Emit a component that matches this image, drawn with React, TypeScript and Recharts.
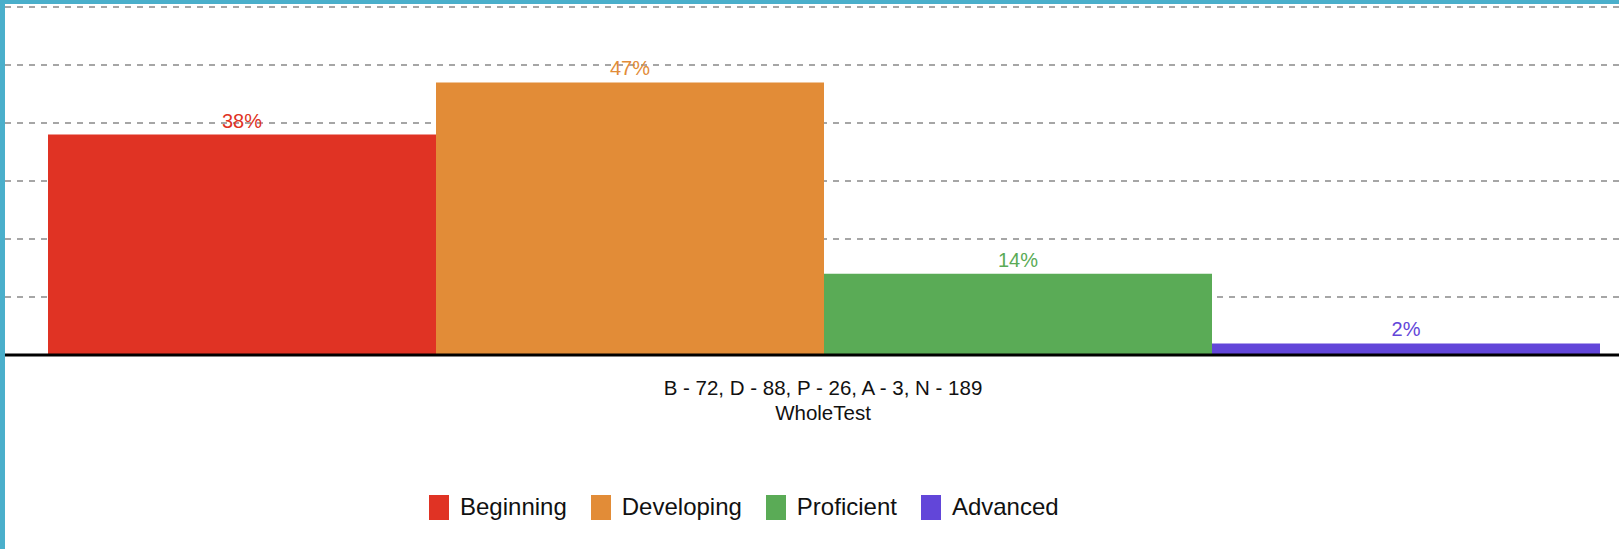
import React from "react";
import { Bar, BarChart, CartesianGrid, LabelList, XAxis, YAxis } from "recharts";

const CATEGORIES = ["WholeTest"];
const LEVELS = ["Beginning", "Developing", "Proficient", "Advanced"];
const SHORT = ["B", "D", "P", "A"];
const COUNTS = [72, 88, 26, 3];
const TOTAL = 189;
const PERCENTS = [38, 47, 14, 2];
const Y_TICKS = [0, 10, 20, 30, 40, 50, 60];

const COLORS = ["#e03324", "#e28c37", "#5aab56", "#6246d9"];
const BORDER = "#4aafcb";
const FONT = "'Liberation Sans', Arial, Helvetica, sans-serif";

const summary =
  COUNTS.map((c, i) => `${SHORT[i]} - ${c}`).join(", ") + `, N - ${TOTAL}`;

const data = CATEGORIES.map((name) => {
  const row: Record<string, string | number> = { name };
  LEVELS.forEach((lvl, i) => {
    row[lvl] = PERCENTS[i];
  });
  return row;
});

function CategoryTick({ x, y, payload }: any) {
  return (
    <g>
      <text x={x} y={y + 40} textAnchor="middle" fontSize={20.5} fill="#111">
        {summary}
      </text>
      <text x={x} y={y + 65} textAnchor="middle" fontSize={20.5} fill="#111">
        {payload.value}
      </text>
    </g>
  );
}

export default function App() {
  return (
    <div
      style={{
        position: "absolute",
        left: 0,
        top: 0,
        width: 1614,
        height: 545,
        overflow: "hidden",
        background: "#fff",
        borderLeft: `5px solid ${BORDER}`,
        borderTop: `4px solid ${BORDER}`,
        fontFamily: FONT,
      }}
    >
      <BarChart
        width={1636}
        height={545}
        data={data}
        margin={{ top: 3, right: 0, left: 0, bottom: 0 }}
        barCategoryGap={43}
        barGap={0}
      >
        <CartesianGrid vertical={false} stroke="#a6a6a6" strokeWidth={2} strokeDasharray="6 6" />
        <YAxis hide domain={[0, 60]} ticks={Y_TICKS} />
        <XAxis
          dataKey="name"
          height={194}
          tickLine={false}
          tickSize={0}
          tickMargin={0}
          axisLine={{ stroke: "#000", strokeWidth: 3 }}
          tick={<CategoryTick />}
        />
        {LEVELS.map((lvl, i) => (
          <Bar key={lvl} dataKey={lvl} fill={COLORS[i]} isAnimationActive={false}>
            <LabelList
              dataKey={lvl}
              position="top"
              offset={7}
              fill={COLORS[i]}
              fontSize={20}
              formatter={(v: any) => `${v}%`}
            />
          </Bar>
        ))}
      </BarChart>
      <div
        style={{
          position: "absolute",
          left: 424,
          top: 489,
          display: "flex",
          alignItems: "center",
          gap: 24,
          fontSize: 24,
          color: "#111",
          whiteSpace: "nowrap",
        }}
      >
        {LEVELS.map((lvl, i) => (
          <div key={lvl} style={{ display: "flex", alignItems: "center" }}>
            <span
              style={{ display: "inline-block", width: 20, height: 25, background: COLORS[i], marginRight: 11 }}
            />
            <span>{lvl}</span>
          </div>
        ))}
      </div>
    </div>
  );
}
